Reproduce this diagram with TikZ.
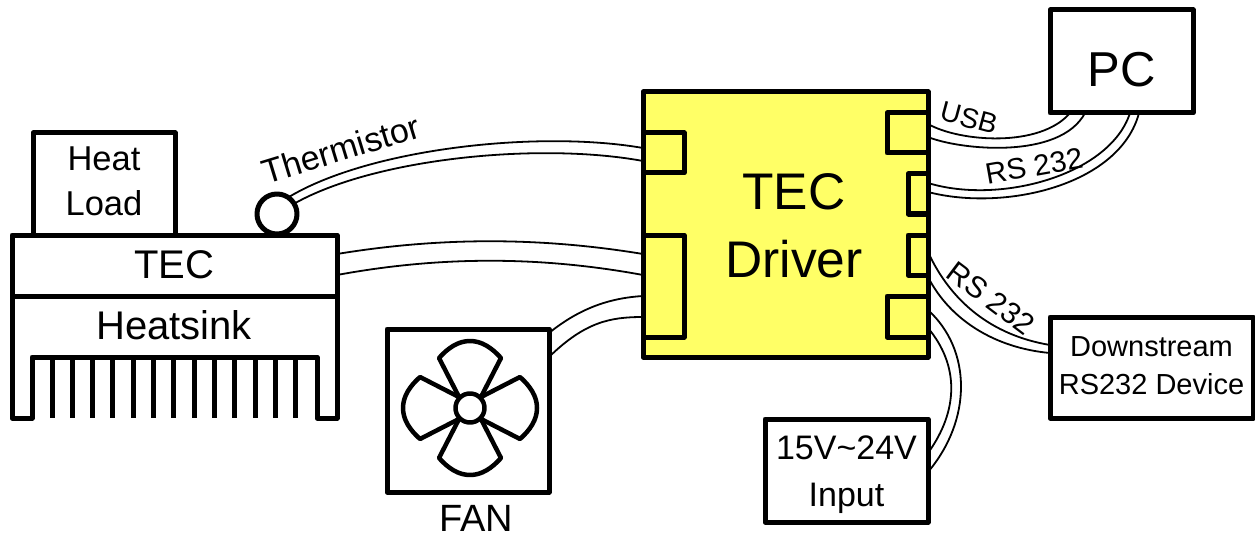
\documentclass[tikz,border=0pt]{standalone}
\usepackage{fontspec}
\setmainfont{Liberation Sans}
\newcommand{\fs}[1]{\fontsize{#1}{#1}\selectfont}
\tikzset{
  box/.style={draw=black,line width=5pt,line join=round,inner sep=0pt,outer sep=0pt,align=center},
  wire/.style={draw=black,line width=1.8pt},
  txt/.style={inner sep=0pt,outer sep=0pt,anchor=base},
  blade/.style={draw=black,line width=4.5pt,line join=round,line cap=round},
  pin/.style={box,fill=driverfill}
}
\definecolor{driverfill}{HTML}{FFFF66}
\begin{document}
\begin{tikzpicture}[x=1pt,y=-1pt]
\useasboundingbox (0,0) rectangle (1255,540);

% thermal stack
\node[box,minimum width=142pt,minimum height=102pt,text height=63pt,font=\fs{34.5}] (load) at (104,184) {Heat\\[10pt]Load};
\node[box,circle,fill=white,minimum size=40pt] (therm) at (277,214) {};
\node[box,minimum width=325pt,minimum height=61pt,fill=white,text height=26pt,font=\fs{40}] (tec) at (174.5,265.5) {TEC};
\draw[box] (12,296) -- (12,418) -- (32,418) -- (32,357) -- (317,357) -- (317,418) -- (337,418) -- (337,296);
\node[txt,font=\fs{40}] (sink) at (174,339.5) {Heatsink};
\foreach \i in {0,...,12} \draw[draw=black,line width=5pt] ({52+20.3*\i},357) -- ({52+20.3*\i},418);

% fan
\node[box,minimum width=162pt,minimum height=163pt] (fan) at (468,410.5) {};
\foreach \a in {0,90,180,270}
  \draw[blade,shift={(470,408)},rotate=\a] (-12,-13) -- (-31,-50) .. controls (-22,-60) and (-12,-67) .. (0,-67) .. controls (12,-67) and (22,-60) .. (31,-50) -- (12,-13);
\node[box,circle,fill=white,line width=4.5pt,minimum size=29pt] (hub) at (470,408) {};
\node[txt,font=\fs{38}] (fanlabel) at (476,531) {FAN};

% driver
\node[box,fill=driverfill,minimum width=285pt,minimum height=265pt,font=\fs{51.5},text height=106pt] (driver) at (785.5,224.5) {\hspace*{17pt}TEC\\[16pt]\hspace*{17pt}Driver};
\node[pin,minimum width=41pt,minimum height=40pt] (p1) at (663.5,153) {};
\node[pin,minimum width=41pt,minimum height=102pt] (p2) at (663.5,286) {};
\node[pin,minimum width=41pt,minimum height=40pt] (p3) at (907.5,133) {};
\node[pin,minimum width=20pt,minimum height=40pt] (p4) at (918,194) {};
\node[pin,minimum width=20pt,minimum height=40pt] (p5) at (918,255) {};
\node[pin,minimum width=41pt,minimum height=41pt] (p6) at (907.5,316.5) {};

% outer boxes
\node[box,minimum width=143pt,minimum height=103pt,text height=51pt,font=\fs{49}] (pc) at (1121.5,61.5) {PC};
\node[box,minimum width=203pt,minimum height=101pt,text depth=4pt,font=\fs{29}] (down) at (1151.5,367.5) {Downstream\\[9pt]RS232 Device};
\node[box,minimum width=163pt,minimum height=103pt,text height=79pt,font=\fs{34}] (input) at (846.5,470.5) {15V\textasciitilde24V\\[13pt]Input};

% wires
\draw[wire] (therm.56) .. controls (370,148) and (540,130) .. ([yshift=76.5pt]driver.west);
\draw[wire] (therm.31) .. controls (375,158) and (540,142) .. ([yshift=63.5pt]driver.west);
\draw[wire] ([yshift=11.5pt]tec.east) .. controls (440,237) and (540,237) .. ([yshift=-29.5pt]driver.west);
\draw[wire] ([yshift=-9.5pt]tec.east) .. controls (440,256) and (540,256) .. ([yshift=-50.5pt]driver.west);
\draw[wire] ([yshift=77.5pt]fan.east) .. controls (580,308) and (610,298) .. ([yshift=-71.5pt]driver.west);
\draw[wire] ([yshift=53.5pt]fan.east) .. controls (585,322) and (610,317) .. ([yshift=-92.5pt]driver.west);
\draw[wire] ([yshift=100.5pt]driver.east) .. controls (960,142) and (1040,148) .. ([xshift=-51.5pt]pc.south);
\draw[wire] ([yshift=87.5pt]driver.east) .. controls (960,150) and (1060,160) .. ([xshift=-36.5pt]pc.south);
\draw[wire] ([yshift=41.5pt]driver.east) .. controls (1000,205) and (1110,175) .. ([xshift=8.5pt]pc.south);
\draw[wire] ([yshift=32.5pt]driver.east) .. controls (1005,212) and (1120,185) .. ([xshift=17.5pt]pc.south);
\draw[wire] ([yshift=-27.5pt]driver.east) .. controls (950,300) and (990,335) .. ([yshift=22.5pt]down.west);
\draw[wire] ([yshift=-52.5pt]driver.east) .. controls (950,320) and (995,348) .. ([yshift=14.5pt]down.west);
\draw[wire] ([yshift=-85.5pt]driver.east) .. controls (972,350) and (972,420) .. ([yshift=-1.5pt]input.east);
\draw[wire] ([yshift=-103.5pt]driver.east) .. controls (959,365) and (959,410) .. ([yshift=17.5pt]input.east);

% wire labels
\node[font=\fs{34},rotate=17,inner sep=0pt] (lth) at (341,149) {Thermistor};
\node[font=\fs{28},rotate=-15,inner sep=0pt] (lusb) at (969,118) {USB};
\node[font=\fs{29.5},rotate=10,inner sep=0pt] (lrs1) at (1034,166) {RS 232};
\node[font=\fs{30},rotate=-37,inner sep=0pt] (lrs2) at (991,298) {RS 232};
\end{tikzpicture}
\end{document}
